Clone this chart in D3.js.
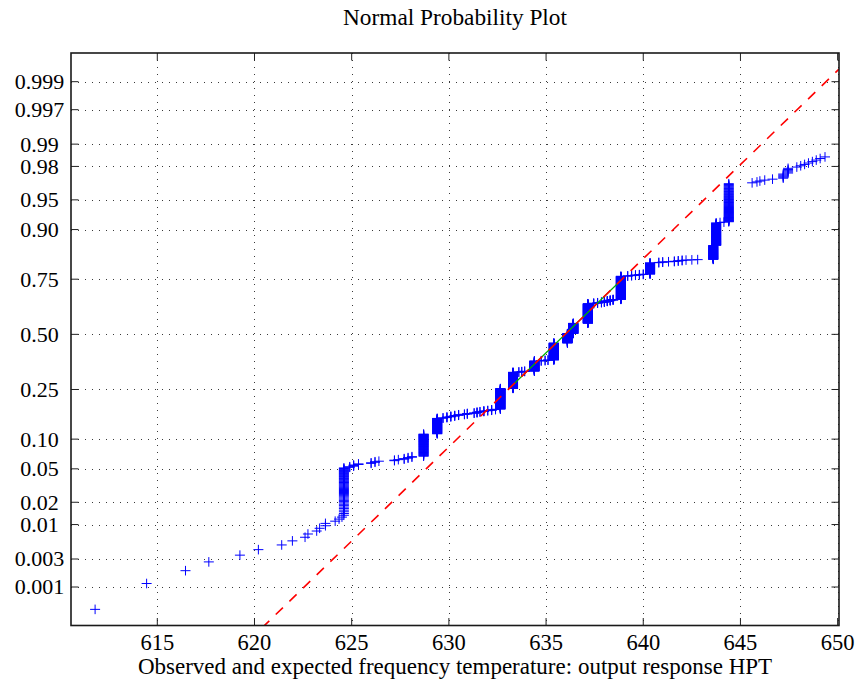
<!DOCTYPE html>
<html><head><meta charset="utf-8">
<script src="https://cdn.jsdelivr.net/npm/d3@7"></script>
<style>
body{margin:0;background:#fff}
svg{display:block}
text{font-family:"Liberation Serif","Times New Roman",serif;fill:#000}
</style>
</head><body><svg id="c" width="867" height="682"></svg>
<script>
// ---- data (sorted observations, run-length encoded) ----
const obsValues = [611.8, 614.45, 616.45, 617.65, 619.25, 620.2, 621.4, 621.95, 622.6, 622.75, 623.2, 623.35, 623.65, 624.15, 624.35, 624.5,
  624.6,
  624.9, 625.1, 625.35, 626.0, 626.2, 626.4, 627.2, 627.4, 627.7, 627.9, 628.1,
  628.7, 629.4,
  629.7, 629.9, 630.1, 630.3, 630.5, 630.8, 630.95, 631.3, 631.45, 631.6, 631.8, 632.0, 632.2, 632.4,
  632.65, 633.3, 633.6, 633.75, 633.9, 634.4, 634.75, 634.95, 635.1, 635.4, 636.1, 636.4, 637.15,
  637.45, 637.65, 637.85, 638.0, 638.15, 638.3, 638.45,
  638.85, 639.2, 639.4, 639.6, 639.8, 640.0, 640.35,
  640.8, 641.0, 641.3, 641.6, 641.8, 642.0, 642.2, 642.5, 642.8,
  643.6, 643.75, 643.95, 644.15, 644.4,
  645.6, 645.85, 646.0, 646.25, 646.65, 647.2, 647.45,
  647.9, 648.1, 648.3, 648.5, 648.7, 648.9, 649.1, 649.35];
const obsCounts = [1,1,1,1,1,1,1,1,1,1,1,1,2,1,1,1,
  50,
  2,3,2,2,2,1,2,1,2,2,2,
  57,53,
  2,3,3,3,3,2,3,2,3,2,3,2,3,2,
  96,88,2,2,2,60,2,2,2,105,60,65,120,
  3,3,3,4,4,4,4,
  125,2,2,2,2,2,52,
  2,2,1,2,2,2,1,1,1,
  54,68,1,1,68,
  1,1,1,1,1,5,5,
  1,1,1,1,1,1,1,1];
const obsBeyondAxis = 19;           // observations above 650 (outside the x limits)
const refQuartiles = [633.05, 638.91]; // reference line through 1st and 3rd quartile
const xTicks = [615, 620, 625, 630, 635, 640, 645, 650];
const probTicks = [0.001, 0.003, 0.01, 0.02, 0.05, 0.10, 0.25, 0.50, 0.75, 0.90, 0.95, 0.98, 0.99, 0.997, 0.999];
const probTickLabels = ["0.001","0.003","0.01","0.02","0.05","0.10","0.25","0.50","0.75","0.90","0.95","0.98","0.99","0.997","0.999"];
const titleText = "Normal Probability Plot";
const xLabelText = "Observed and expected frequency temperature: output response HPT";

// ---- inverse standard normal CDF (Acklam) ----
function invNorm(p){
  const a=[-3.969683028665376e+01,2.209460984245205e+02,-2.759285104469687e+02,1.383577518672690e+02,-3.066479806614716e+01,2.506628277459239e+00];
  const b=[-5.447609879822406e+01,1.615858368580409e+02,-1.556989798598866e+02,6.680131188771972e+01,-1.328068155288572e+01];
  const c=[-7.784894002430293e-03,-3.223964580411365e-01,-2.400758277161838e+00,-2.549732539343734e+00,4.374664141464968e+00,2.938163982698783e+00];
  const d=[7.784695709041462e-03,3.224671290700398e-01,2.445134137142996e+00,3.754408661907416e+00];
  const pl=0.02425, ph=1-pl; let q,r;
  if(p<pl){q=Math.sqrt(-2*Math.log(p));return (((((c[0]*q+c[1])*q+c[2])*q+c[3])*q+c[4])*q+c[5])/((((d[0]*q+d[1])*q+d[2])*q+d[3])*q+1);}
  if(p<=ph){q=p-0.5;r=q*q;return (((((a[0]*r+a[1])*r+a[2])*r+a[3])*r+a[4])*r+a[5])*q/(((((b[0]*r+b[1])*r+b[2])*r+b[3])*r+b[4])*r+1);}
  q=Math.sqrt(-2*Math.log(1-p));return -(((((c[0]*q+c[1])*q+c[2])*q+c[3])*q+c[4])*q+c[5])/((((d[0]*q+d[1])*q+d[2])*q+d[3])*q+1);
}

// ---- layout ----
const L=71, R=839, T=53, B=625.5;
const x = d3.scaleLinear().domain([610.56, 650.07]).range([L, R]);
const y = d3.scaleLinear().domain([-3.561, 3.441]).range([B, T]);
const svg = d3.select("#c");
const FS = 22.5;

// expand observations into plotting positions (i-0.5)/n
const N = d3.sum(obsCounts) + obsBeyondAxis;
const pts = [];
let idx = 0;
obsValues.forEach((v,k)=>{ for(let j=0;j<obsCounts[k];j++){ idx++; pts.push({v, z: invNorm((idx-0.5)/N)}); } });

svg.append("defs").append("clipPath").attr("id","clip")
  .append("rect").attr("x",L).attr("y",T).attr("width",R-L).attr("height",B-T);

// grid
const grid = svg.append("g").attr("stroke","#3a3a3a").attr("stroke-width",1).attr("stroke-dasharray","1,6");
grid.selectAll(".gx").data(xTicks).join("line")
  .attr("x1",d=>Math.round(x(d))+0.5).attr("x2",d=>Math.round(x(d))+0.5).attr("y1",T).attr("y2",B);
grid.selectAll(".gy").data(probTicks).join("line")
  .attr("y1",d=>Math.round(y(invNorm(d)))+0.5).attr("y2",d=>Math.round(y(invNorm(d)))+0.5).attr("x1",L).attr("x2",R);

// data markers
const plus = "M-5,0H5M0,-4.8V4.8";
svg.append("g").attr("clip-path","url(#clip)")
  .selectAll("path").data(pts).join("path")
  .attr("d",plus).attr("transform",d=>`translate(${x(d.v)},${y(d.z)})`)
  .attr("fill","none").attr("stroke","#0000ff").attr("stroke-width",1);

// reference line through quartiles
const z1 = invNorm(0.25), z3 = invNorm(0.75);
const slope = (z3-z1)/(refQuartiles[1]-refQuartiles[0]);
const zAt = v => z1 + (v-refQuartiles[0])*slope;
const xd = x.domain();
const lg = svg.append("g").attr("clip-path","url(#clip)");
lg.append("line").attr("x1",x(refQuartiles[0])).attr("y1",y(z1)).attr("x2",x(refQuartiles[1])).attr("y2",y(z3))
  .attr("stroke","#00b000").attr("stroke-width",1.2);
lg.append("line").attr("x1",x(xd[0])).attr("y1",y(zAt(xd[0]))).attr("x2",x(xd[1])).attr("y2",y(zAt(xd[1])))
  .attr("stroke","#ff0000").attr("stroke-width",1.6).attr("stroke-dasharray","10,9");

// axes (ticks inward, box)
const tl = 7.5;
const ax = svg.append("g");
ax.selectAll(".tb").data(xTicks).join("line")
  .attr("x1",d=>x(d)).attr("x2",d=>x(d)).attr("y1",B).attr("y2",B-tl).attr("stroke","#222");
ax.selectAll(".tt").data(xTicks).join("line")
  .attr("x1",d=>x(d)).attr("x2",d=>x(d)).attr("y1",T).attr("y2",T+tl).attr("stroke","#222");
ax.selectAll(".tlft").data(probTicks).join("line")
  .attr("y1",d=>y(invNorm(d))).attr("y2",d=>y(invNorm(d))).attr("x1",L).attr("x2",L+tl).attr("stroke","#222");
ax.selectAll(".trgt").data(probTicks).join("line")
  .attr("y1",d=>y(invNorm(d))).attr("y2",d=>y(invNorm(d))).attr("x1",R).attr("x2",R-tl).attr("stroke","#222");
ax.append("rect").attr("x",L).attr("y",T).attr("width",R-L).attr("height",B-T)
  .attr("fill","none").attr("stroke","#1a1a1a").attr("stroke-width",1.6);

// tick labels
svg.append("g").selectAll("text").data(xTicks).join("text")
  .attr("x",d=>x(d)).attr("y",650).attr("text-anchor","middle").attr("font-size",FS).text(d=>d);
svg.append("g").selectAll("text").data(probTicks).join("text")
  .attr("x",39.5).attr("y",d=>y(invNorm(d))+7.4).attr("text-anchor","middle").attr("font-size",22)
  .text((d,i)=>probTickLabels[i]);

// title and label
svg.append("text").attr("x",(L+R)/2).attr("y",25).attr("text-anchor","middle").attr("font-size",23.3).text(titleText);
svg.append("text").attr("x",(L+R)/2).attr("y",674).attr("text-anchor","middle").attr("font-size",23).text(xLabelText);
</script>
</body></html>
